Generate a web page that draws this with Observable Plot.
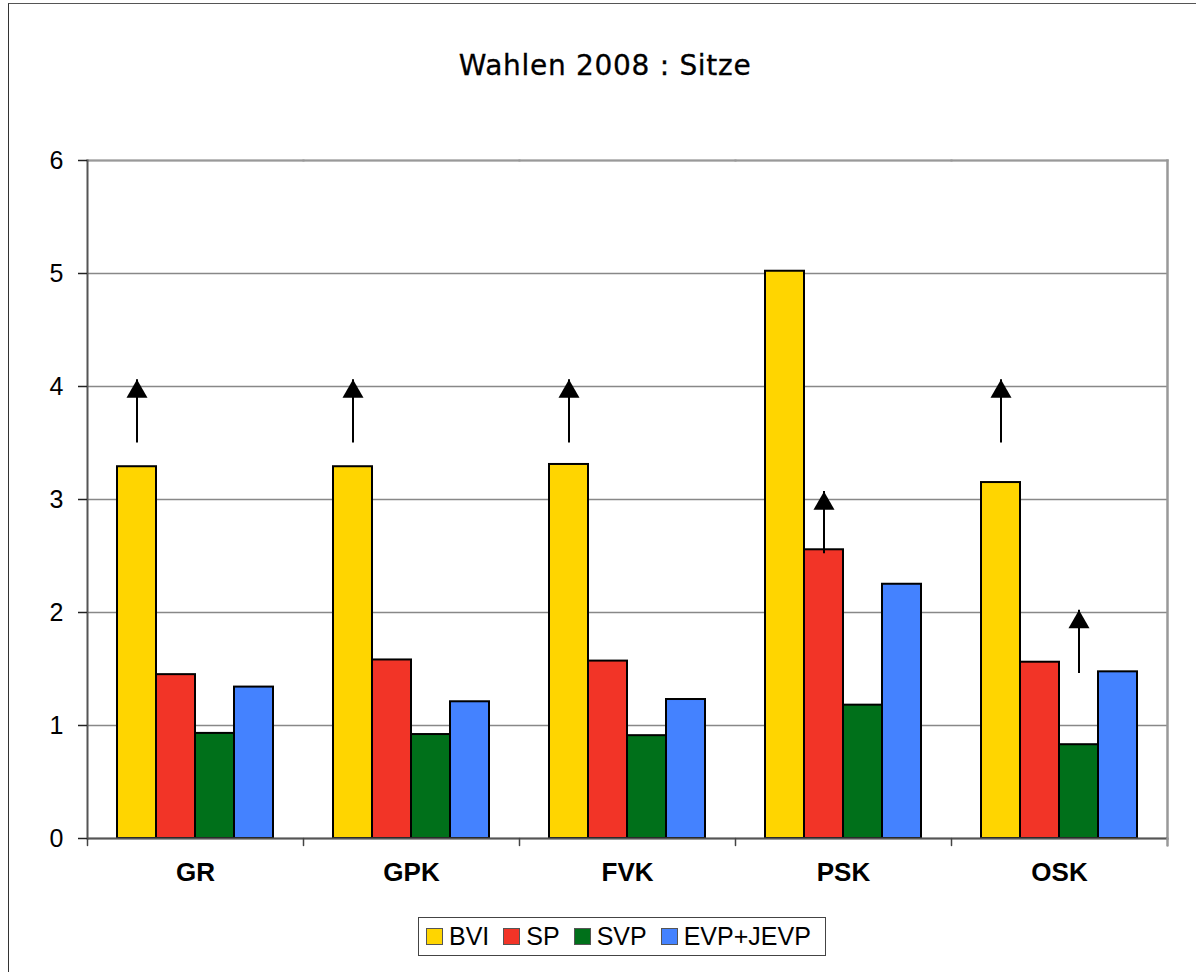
<!DOCTYPE html>
<html>
<head>
<meta charset="utf-8">
<script src="https://cdn.jsdelivr.net/npm/d3@7"></script>
<script src="https://cdn.jsdelivr.net/npm/@observablehq/plot@0.6"></script>
<style>
  html, body { margin: 0; padding: 0; background: #fff; }
  #chart { position: relative; width: 1196px; height: 972px; overflow: hidden; font-family: "Liberation Sans", Arial, sans-serif; }
  #outer { position: absolute; left: 8px; top: 3px; width: 1300px; height: 1100px; border-left: 1.5px solid #333; border-top: 1.5px solid #555; box-sizing: border-box; }
  #title { position: absolute; left: 8px; width: 1194px; top: 52px; text-align: center; font-family: "DejaVu Sans", sans-serif; font-size: 28px; line-height: 28px; letter-spacing: 0.7px; color: #000; -webkit-text-stroke: 0.3px #000; }
  #plot { position: absolute; left: 0; top: 100px; }
  #legend { position: absolute; left: 418px; top: 917px; height: 39px; box-sizing: border-box; border: 1.5px solid #444; display: flex; align-items: center; padding: 0 14px 0 7px; font-size: 25px; color: #000; background: #fff; }
  #legend .item { display: flex; align-items: center; }
  #legend .sw { width: 17px; height: 17px; border: 1px solid #555; box-sizing: border-box; margin-right: 6px; }
  #legend .item + .item { margin-left: 14px; }
</style>
</head>
<body>
<div id="chart">
  <div id="outer"></div>
  <div id="title">Wahlen 2008 : Sitze</div>
  <div id="plot"></div>
  <div id="legend"></div>
</div>
<script>
// ---- data ----
const categories = ["GR", "GPK", "FVK", "PSK", "OSK"];
const series = ["BVI", "SP", "SVP", "EVP+JEVP"];
const colors = ["#FFD500", "#F23427", "#00701A", "#4482FF"];
const bvi = [3.29, 3.29, 3.31, 5.02, 3.15];
const sp = [1.45, 1.58, 1.57, 2.555, 1.56];
const svp = [0.93, 0.92, 0.91, 1.18, 0.83];
const evp = [1.34, 1.21, 1.23, 2.25, 1.475];
const yTicks = [0, 1, 2, 3, 4, 5, 6];

// arrows (annotations)
const arrowCat = ["GR", "GPK", "FVK", "PSK", "OSK", "OSK"];
const arrowSeries = ["BVI", "BVI", "BVI", "SP", "BVI", "SVP"];
const arrowFrom = [3.5, 3.5, 3.5, 2.52, 3.5, 1.46];
const arrowTo = [4.06, 4.06, 4.06, 3.07, 4.06, 2.02];

const valuesBySeries = [bvi, sp, svp, evp];
const rows = categories.flatMap((c, i) => series.map((s, j) => ({cat: c, series: s, value: valuesBySeries[j][i]})));
const arrows = arrowCat.map((c, i) => ({cat: c, series: arrowSeries[i], from: arrowFrom[i], to: arrowTo[i]}));

const tickShape = {draw(context, l) { context.moveTo(0, 0); context.lineTo(0, -l); }};

const chart = Plot.plot({
  width: 1196,
  height: 800,
  marginTop: 60,
  marginBottom: 62,
  marginLeft: 85,
  marginRight: 28,
  style: {fontFamily: "'Liberation Sans', Arial, sans-serif", background: "transparent", overflow: "visible", color: "#000"},
  fx: {domain: categories, padding: 0, label: null, axis: null},
  x: {domain: series, paddingInner: 0, paddingOuter: 0.745, axis: null},
  y: {domain: [0, 6], label: null},
  color: {domain: series, range: colors},
  marks: [
    Plot.gridY(yTicks, {stroke: "#888", strokeOpacity: 1, strokeWidth: 1.5}),
    Plot.frame({anchor: "top", stroke: "#999", strokeWidth: 2}),
    Plot.frame({anchor: "right", facetAnchor: "right", stroke: "#999", strokeWidth: 2.5}),
    Plot.barY(rows, {fx: "cat", x: "series", y: "value", fill: "series", stroke: "#000", strokeWidth: 2}),
    Plot.ruleY([0], {stroke: "#555", strokeWidth: 2}),
    Plot.frame({anchor: "left", facetAnchor: "left", stroke: "#555", strokeWidth: 2}),
    Plot.vector([0], {frameAnchor: "bottom-left", length: 7, rotate: 180, anchor: "start", shape: tickShape, stroke: "#444", strokeWidth: 1.5}),
    Plot.vector([0], {frameAnchor: "bottom-right", facetAnchor: "right", length: 7, rotate: 180, anchor: "start", shape: tickShape, stroke: "#999", strokeWidth: 2.5}),
    Plot.axisY(yTicks, {tickSize: 9, tickPadding: 15, fontSize: 25, tickFormat: d => String(d), stroke: "#222", strokeWidth: 1.5, label: null}),
    Plot.axisFx({anchor: "bottom", tickSize: 0, tickPadding: 24, fontSize: 26, fontWeight: "bold", label: null}),
    Plot.ruleX(arrows, {fx: "cat", x: "series", y1: "from", y2: "to", stroke: "#000", strokeWidth: 2}),
    Plot.dot(arrows, {fx: "cat", x: "series", y: "to", symbol: "triangle", r: 7.8, fill: "#000", stroke: "none", dy: 12})
  ]
});
document.getElementById("plot").appendChild(chart);

// legend
const legend = document.getElementById("legend");
series.forEach((s, i) => {
  const item = document.createElement("div");
  item.className = "item";
  const sw = document.createElement("div");
  sw.className = "sw";
  sw.style.background = colors[i];
  const label = document.createElement("span");
  label.textContent = s;
  item.appendChild(sw);
  item.appendChild(label);
  legend.appendChild(item);
});
</script>
</body>
</html>
